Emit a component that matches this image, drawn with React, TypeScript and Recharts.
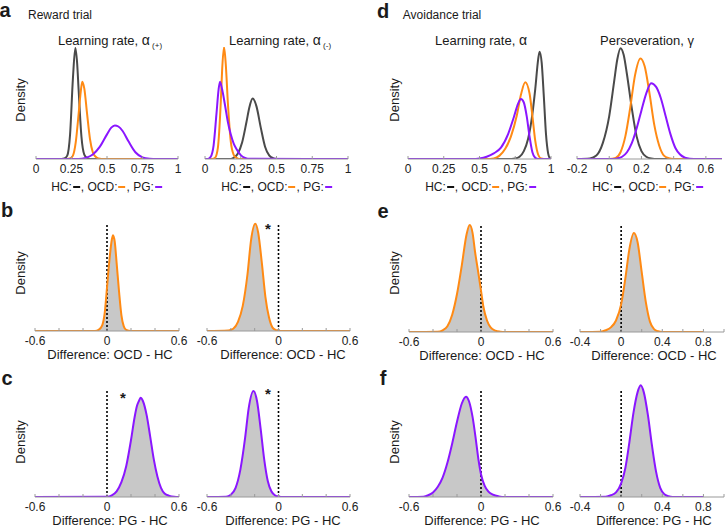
import React from 'react';
import { ComposedChart, Line, Area, XAxis, YAxis, ReferenceLine } from 'recharts';

// ---------- colours ----------
const C_HC = '#4a4a4a';
const C_OCD = '#ff8a14';
const C_PG = '#8a16ff';
const C_FILL = '#c8c8c8';
const C_AXIS = '#9a9a9a';

// ---------- tick sets ----------
const ticksUnit = [0, 0.25, 0.5, 0.75, 1];
const labelsUnit = ['0', '0.25', '0.5', '0.75', '1'];
const ticksGamma = [-0.2, 0, 0.2, 0.4, 0.6];
const labelsGamma = ['-0.2', '0', '0.2', '0.4', '0.6'];
const ticksDiff6 = [-0.6, -0.4, -0.2, 0, 0.2, 0.4, 0.6];
const labelsDiff6 = ['-0.6', '', '', '0', '', '', '0.6'];
const ticksDiff4 = [-0.4, -0.2, 0, 0.2, 0.4, 0.6, 0.8, 1.0];
const labelsDiff4 = ['-0.4', '', '0', '', '0.4', '', '0.8', ''];

// ---------- a: reward, learning rate alpha(+) ----------
const aL_HC_x = [0, 0.18, 0.2, 0.22, 0.24, 0.26, 0.277, 0.29, 0.3, 0.32, 0.34, 0.36, 0.38, 1];
const aL_HC_y = [0, 0, 0.5, 3, 22, 72, 99, 85, 62, 20, 4, 0.8, 0, 0];
const aL_OCD_x = [0, 0.22, 0.24, 0.26, 0.28, 0.3, 0.315, 0.326, 0.34, 0.36, 0.38, 0.4, 0.42, 0.44, 0.46, 1];
const aL_OCD_y = [0, 0, 0.5, 3, 15, 40, 60, 69, 63, 40, 18, 6, 2, 0.5, 0, 0];
const aL_PG_x = [0, 0.3, 0.35, 0.4, 0.45, 0.5, 0.53, 0.555, 0.58, 0.61, 0.65, 0.7, 0.75, 0.8, 0.85, 1];
const aL_PG_y = [0, 0, 1, 4, 11, 22, 28, 30, 29, 25, 16, 6, 1.5, 0.3, 0, 0];

// ---------- a: reward, learning rate alpha(-) ----------
const aR_HC_x = [0, 0.18, 0.2, 0.23, 0.26, 0.29, 0.31, 0.333, 0.36, 0.39, 0.42, 0.45, 0.48, 0.5, 1];
const aR_HC_y = [0, 0, 1, 5, 15, 33, 46, 54, 47, 28, 11, 3, 0.5, 0, 0];
const aR_OCD_x = [0, 0.05, 0.07, 0.09, 0.11, 0.12, 0.133, 0.145, 0.16, 0.18, 0.2, 0.22, 0.24, 1];
const aR_OCD_y = [0, 0, 1, 10, 50, 80, 100, 85, 50, 16, 4, 1, 0, 0];
const aR_PG_x = [0, 0.02, 0.04, 0.06, 0.08, 0.095, 0.105, 0.12, 0.14, 0.16, 0.18, 0.2, 0.22, 0.25, 0.28, 0.3, 1];
const aR_PG_y = [0, 0, 2, 12, 40, 62, 69, 62, 48, 33, 22, 14, 9, 3.5, 1, 0.3, 0];

// ---------- d: avoidance, learning rate alpha ----------
const dL_HC_x = [0, 0.7, 0.75, 0.78, 0.81, 0.84, 0.87, 0.89, 0.91, 0.92, 0.935, 0.95, 0.965, 0.98, 0.99, 1];
const dL_HC_y = [0, 0, 0.5, 2, 7, 18, 40, 62, 88, 95, 85, 55, 22, 5, 1, 0];
const dL_OCD_x = [0, 0.55, 0.6, 0.64, 0.68, 0.72, 0.76, 0.79, 0.82, 0.85, 0.87, 0.89, 0.91, 0.93, 0.95, 1];
const dL_OCD_y = [0, 0, 0.5, 3, 9, 20, 38, 57, 68, 58, 38, 16, 4, 0.5, 0, 0];
const dL_PG_x = [0, 0.45, 0.5, 0.55, 0.6, 0.65, 0.7, 0.74, 0.77, 0.79, 0.81, 0.83, 0.85, 0.87, 0.89, 0.91, 1];
const dL_PG_y = [0, 0, 0.5, 2, 5, 10, 22, 37, 49, 53, 50, 38, 20, 6, 1, 0, 0];

// ---------- d: avoidance, perseveration gamma ----------
const dR_HC_x = [-0.2, -0.12, -0.08, -0.04, 0, 0.03, 0.05, 0.07, 0.09, 0.11, 0.14, 0.17, 0.2, 0.23, 0.26, 0.3, 0.7];
const dR_HC_y = [0, 0.5, 3, 14, 38, 68, 88, 98, 92, 75, 45, 20, 7, 2, 0.5, 0, 0];
const dR_OCD_x = [-0.2, 0, 0.04, 0.07, 0.1, 0.13, 0.16, 0.194, 0.22, 0.25, 0.28, 0.31, 0.34, 0.37, 0.4, 0.7];
const dR_OCD_y = [0, 0, 1, 6, 20, 45, 74, 89, 82, 58, 30, 12, 3, 0.7, 0, 0];
const dR_PG_x = [-0.2, 0.02, 0.05, 0.08, 0.11, 0.14, 0.17, 0.2, 0.23, 0.26, 0.29, 0.32, 0.35, 0.38, 0.41, 0.44, 0.47, 0.5, 0.55, 0.7];
const dR_PG_y = [0, 0, 0.5, 2, 6, 14, 27, 43, 58, 67, 64, 54, 38, 22, 10, 4, 1.2, 0.3, 0, 0];

// ---------- b: OCD - HC (reward) ----------
const bL_x = [-0.6, -0.1, -0.07, -0.04, -0.02, 0, 0.02, 0.04, 0.05, 0.065, 0.08, 0.1, 0.12, 0.14, 0.16, 0.2, 0.6];
const bL_y = [0, 0, 1, 5, 15, 38, 62, 80, 84, 78, 60, 35, 14, 4, 1, 0, 0];
const bR_x = [-0.6, -0.42, -0.38, -0.34, -0.3, -0.26, -0.23, -0.195, -0.17, -0.14, -0.11, -0.08, -0.05, -0.02, 0, 0.6];
const bR_y = [0, 0.5, 2, 8, 22, 50, 80, 94, 86, 60, 30, 12, 3, 0.7, 0, 0];

// ---------- c: PG - HC (reward) ----------
const cL_x = [-0.6, 0, 0.04, 0.08, 0.12, 0.16, 0.2, 0.23, 0.25, 0.265, 0.28, 0.3, 0.33, 0.36, 0.39, 0.42, 0.45, 0.48, 0.52, 0.56, 0.6];
const cL_y = [0, 0.3, 1.5, 5, 13, 27, 50, 70, 80, 84, 87, 84, 72, 53, 33, 18, 8, 3, 1, 0.2, 0];
const cR_x = [-0.6, -0.44, -0.4, -0.36, -0.32, -0.28, -0.25, -0.21, -0.18, -0.15, -0.12, -0.09, -0.06, -0.03, 0, 0.05, 0.6];
const cR_y = [0, 0.3, 2, 8, 24, 52, 78, 93, 84, 60, 33, 14, 5, 1.5, 0.3, 0, 0];

// ---------- e: OCD - HC (avoidance) ----------
const eL_x = [-0.6, -0.36, -0.32, -0.28, -0.24, -0.2, -0.16, -0.12, -0.094, -0.07, -0.05, -0.02, 0, 0.02, 0.05, 0.08, 0.12, 0.16, 0.2, 0.6];
const eL_y = [0, 0.3, 1.5, 5, 15, 33, 58, 85, 93, 86, 70, 50, 36, 22, 10, 4, 1.2, 0.3, 0, 0];
const eR_x = [-0.4, -0.2, -0.15, -0.1, -0.05, 0, 0.04, 0.08, 0.123, 0.16, 0.2, 0.24, 0.28, 0.32, 0.36, 0.4, 0.8];
const eR_y = [0, 0.3, 1.5, 4, 10, 24, 46, 72, 86, 78, 52, 26, 9, 2.5, 0.6, 0, 0];

// ---------- f: PG - HC (avoidance) ----------
const fL_x = [-0.6, -0.48, -0.44, -0.4, -0.36, -0.32, -0.28, -0.24, -0.2, -0.16, -0.125, -0.1, -0.07, -0.04, -0.02, 0, 0.03, 0.06, 0.1, 0.15, 0.2, 0.6];
const fL_y = [0, 0.3, 1.5, 4, 9, 17, 30, 47, 66, 82, 88, 84, 70, 48, 32, 20, 10, 5, 2, 0.5, 0, 0];
const fR_x = [-0.4, -0.15, -0.1, -0.05, 0, 0.04, 0.08, 0.12, 0.16, 0.19, 0.22, 0.26, 0.3, 0.34, 0.38, 0.42, 0.46, 0.5, 0.8];
const fR_y = [0, 0.3, 1.5, 4, 12, 25, 48, 74, 92, 98, 92, 72, 45, 22, 8, 2.5, 0.7, 0, 0];

const pts = (xs: number[], ys: number[]) => xs.map((x, i) => ({ x, y: ys[i] }));

const FONT = '"Liberation Sans", Arial, Helvetica, sans-serif';

type Series = { data: { x: number; y: number }[]; color: string };

function Panel(props: {
  rect: [number, number, number, number];
  domain: [number, number];
  ticks: number[];
  labels: string[];
  lines?: Series[];
  area?: Series;
  dotted?: boolean;
}) {
  const { rect, domain, ticks, labels, lines, area, dotted } = props;
  const [x0, y0, x1, y1] = rect;
  const ml = 14, mr = 14, mt = 6, xh = 22;
  const W = x1 - x0 + ml + mr;
  const H = y1 - y0 + mt + xh;
  const fmt = (v: number) => {
    const i = ticks.findIndex((t) => Math.abs(t - v) < 1e-9);
    return i >= 0 ? labels[i] : '';
  };
  return (
    <div style={{ position: 'absolute', left: x0 - ml, top: y0 - mt }}>
      <ComposedChart
        width={W}
        height={H}
        data={area ? area.data : undefined}
        margin={{ top: mt, right: mr, left: ml, bottom: 0 }}
      >
        <XAxis
          type="number"
          dataKey="x"
          domain={domain}
          ticks={ticks}
          interval={0}
          allowDataOverflow
          tickFormatter={fmt}
          height={xh}
          tickSize={-3}
          tickMargin={8}
          axisLine={{ stroke: C_AXIS, strokeWidth: 1.2 }}
          tickLine={{ stroke: C_AXIS }}
          tick={{ fontSize: 12, fill: '#222', fontFamily: FONT }}
        />
        <YAxis
          type="number"
          domain={[0, 100]}
          width={0}
          tick={false}
          tickLine={false}
          axisLine={{ stroke: C_AXIS, strokeWidth: 1.2 }}
          allowDataOverflow
        />
        {area && (
          <Area
            type="monotone"
            dataKey="y"
            stroke="none"
            fill={C_FILL}
            fillOpacity={1}
            isAnimationActive={false}
          />
        )}
        {dotted && (
          <ReferenceLine
            segment={[{ x: 0, y: 0 }, { x: 0, y: 94 }]}
            stroke="#000"
            strokeWidth={1.6}
            strokeDasharray="2 2"
          />
        )}
        {area && (
          <Line
            type="monotone"
            dataKey="y"
            stroke={area.color}
            strokeWidth={2}
            dot={false}
            isAnimationActive={false}
          />
        )}
        {lines &&
          lines.map((s, i) => (
            <Line
              key={i}
              data={s.data}
              type="monotone"
              dataKey="y"
              stroke={s.color}
              strokeWidth={2}
              dot={false}
              isAnimationActive={false}
            />
          ))}
      </ComposedChart>
    </div>
  );
}

const abs = (left: number, top: number, extra: React.CSSProperties = {}): React.CSSProperties => ({
  position: 'absolute',
  left,
  top,
  transform: 'translate(-50%, -50%)',
  whiteSpace: 'nowrap',
  lineHeight: 1,
  fontFamily: FONT,
  color: '#1a1a1a',
  ...extra,
});

function Legend({ x, y }: { x: number; y: number }) {
  const dash = (c: string) => (
    <span
      style={{
        display: 'inline-block',
        width: 7,
        height: 2,
        background: c,
        verticalAlign: 'middle',
        margin: '0 1px 0 1px',
        position: 'relative',
        top: -1,
      }}
    />
  );
  return (
    <div style={abs(x, y, { fontSize: 12 })}>
      HC:{dash('#111')}, OCD:{dash(C_OCD)}, PG:{dash(C_PG)}
    </div>
  );
}

function Density({ x, y }: { x: number; y: number }) {
  return (
    <div style={abs(x, y, { fontSize: 13, transform: 'translate(-50%, -50%) rotate(-90deg)' })}>Density</div>
  );
}

export default function App() {
  return (
    <div
      style={{
        position: 'absolute',
        left: 0,
        top: 0,
        width: 725,
        height: 528,
        background: '#fff',
        overflow: 'hidden',
        fontFamily: FONT,
      }}
    >
      {/* panel letters and headings */}
      <div style={abs(5, 10, { fontSize: 20, fontWeight: 'bold' })}>a</div>
      <div style={abs(60, 15, { fontSize: 12 })}>Reward trial</div>
      <div style={abs(383, 11, { fontSize: 20, fontWeight: 'bold' })}>d</div>
      <div style={abs(442, 15, { fontSize: 12 })}>Avoidance trial</div>
      <div style={abs(7, 210, { fontSize: 20, fontWeight: 'bold' })}>b</div>
      <div style={abs(383, 211, { fontSize: 20, fontWeight: 'bold' })}>e</div>
      <div style={abs(7, 378, { fontSize: 20, fontWeight: 'bold' })}>c</div>
      <div style={abs(383, 378, { fontSize: 20, fontWeight: 'bold' })}>f</div>

      {/* titles */}
      <div style={abs(110, 40, { fontSize: 13 })}>
        Learning rate, <span style={{ fontSize: 14 }}>α</span>
        <span style={{ fontSize: 8, position: 'relative', top: 3 }}> (+)</span>
      </div>
      <div style={abs(280, 40, { fontSize: 13 })}>
        Learning rate, <span style={{ fontSize: 14 }}>α</span>
        <span style={{ fontSize: 8, position: 'relative', top: 3 }}> (-)</span>
      </div>
      <div style={abs(481, 40, { fontSize: 13 })}>
        Learning rate, <span style={{ fontSize: 14 }}>α</span>
      </div>
      <div style={abs(647, 40, { fontSize: 13 })}>Perseveration, γ</div>

      {/* Density labels */}
      <Density x={20} y={100} />
      <Density x={20} y={273} />
      <Density x={20} y={442} />
      <Density x={394} y={100} />
      <Density x={394} y={273} />
      <Density x={394} y={442} />

      {/* top row */}
      <Panel
        rect={[36, 47, 178, 159]}
        domain={[0, 1]}
        ticks={ticksUnit}
        labels={labelsUnit}
        lines={[
          { data: pts(aL_HC_x, aL_HC_y), color: C_HC },
          { data: pts(aL_OCD_x, aL_OCD_y), color: C_OCD },
          { data: pts(aL_PG_x, aL_PG_y), color: C_PG },
        ]}
      />
      <Panel
        rect={[205, 47, 348, 159]}
        domain={[0, 1]}
        ticks={ticksUnit}
        labels={labelsUnit}
        lines={[
          { data: pts(aR_HC_x, aR_HC_y), color: C_HC },
          { data: pts(aR_OCD_x, aR_OCD_y), color: C_OCD },
          { data: pts(aR_PG_x, aR_PG_y), color: C_PG },
        ]}
      />
      <Panel
        rect={[408, 46, 551, 159]}
        domain={[0, 1]}
        ticks={ticksUnit}
        labels={labelsUnit}
        lines={[
          { data: pts(dL_HC_x, dL_HC_y), color: C_HC },
          { data: pts(dL_OCD_x, dL_OCD_y), color: C_OCD },
          { data: pts(dL_PG_x, dL_PG_y), color: C_PG },
        ]}
      />
      <Panel
        rect={[577, 46, 722, 159]}
        domain={[-0.2, 0.7]}
        ticks={ticksGamma}
        labels={labelsGamma}
        lines={[
          { data: pts(dR_HC_x, dR_HC_y), color: C_HC },
          { data: pts(dR_OCD_x, dR_OCD_y), color: C_OCD },
          { data: pts(dR_PG_x, dR_PG_y), color: C_PG },
        ]}
      />

      <Legend x={107} y={187} />
      <Legend x={277} y={187} />
      <Legend x={481} y={187} />
      <Legend x={648} y={187} />

      {/* middle row */}
      <Panel rect={[35, 217, 179, 331]} domain={[-0.6, 0.6]} ticks={ticksDiff6} labels={labelsDiff6} area={{ data: pts(bL_x, bL_y), color: C_OCD }} dotted />
      <Panel rect={[207, 217, 350, 331]} domain={[-0.6, 0.6]} ticks={ticksDiff6} labels={labelsDiff6} area={{ data: pts(bR_x, bR_y), color: C_OCD }} dotted />
      <Panel rect={[409, 217, 553, 332]} domain={[-0.6, 0.6]} ticks={ticksDiff6} labels={labelsDiff6} area={{ data: pts(eL_x, eL_y), color: C_OCD }} dotted />
      <Panel rect={[580, 217, 724, 332]} domain={[-0.4, 1.0]} ticks={ticksDiff4} labels={labelsDiff4} area={{ data: pts(eR_x, eR_y), color: C_OCD }} dotted />

      <div style={abs(110, 354, { fontSize: 13 })}>Difference: OCD - HC</div>
      <div style={abs(283, 354, { fontSize: 13 })}>Difference: OCD - HC</div>
      <div style={abs(482, 355, { fontSize: 13 })}>Difference: OCD - HC</div>
      <div style={abs(654, 355, { fontSize: 13 })}>Difference: OCD - HC</div>

      {/* bottom row */}
      <Panel rect={[35, 383, 179, 497]} domain={[-0.6, 0.6]} ticks={ticksDiff6} labels={labelsDiff6} area={{ data: pts(cL_x, cL_y), color: C_PG }} dotted />
      <Panel rect={[207, 383, 350, 497]} domain={[-0.6, 0.6]} ticks={ticksDiff6} labels={labelsDiff6} area={{ data: pts(cR_x, cR_y), color: C_PG }} dotted />
      <Panel rect={[409, 383, 553, 497]} domain={[-0.6, 0.6]} ticks={ticksDiff6} labels={labelsDiff6} area={{ data: pts(fL_x, fL_y), color: C_PG }} dotted />
      <Panel rect={[580, 383, 724, 497]} domain={[-0.4, 1.0]} ticks={ticksDiff4} labels={labelsDiff4} area={{ data: pts(fR_x, fR_y), color: C_PG }} dotted />

      <div style={abs(110, 520, { fontSize: 13 })}>Difference: PG - HC</div>
      <div style={abs(283, 520, { fontSize: 13 })}>Difference: PG - HC</div>
      <div style={abs(482, 520, { fontSize: 13 })}>Difference: PG - HC</div>
      <div style={abs(654, 520, { fontSize: 13 })}>Difference: PG - HC</div>

      {/* significance stars */}
      <div style={abs(268, 228, { fontSize: 15, fontWeight: 'bold' })}>*</div>
      <div style={abs(123, 397, { fontSize: 15, fontWeight: 'bold' })}>*</div>
      <div style={abs(268, 393, { fontSize: 15, fontWeight: 'bold' })}>*</div>
    </div>
  );
}
